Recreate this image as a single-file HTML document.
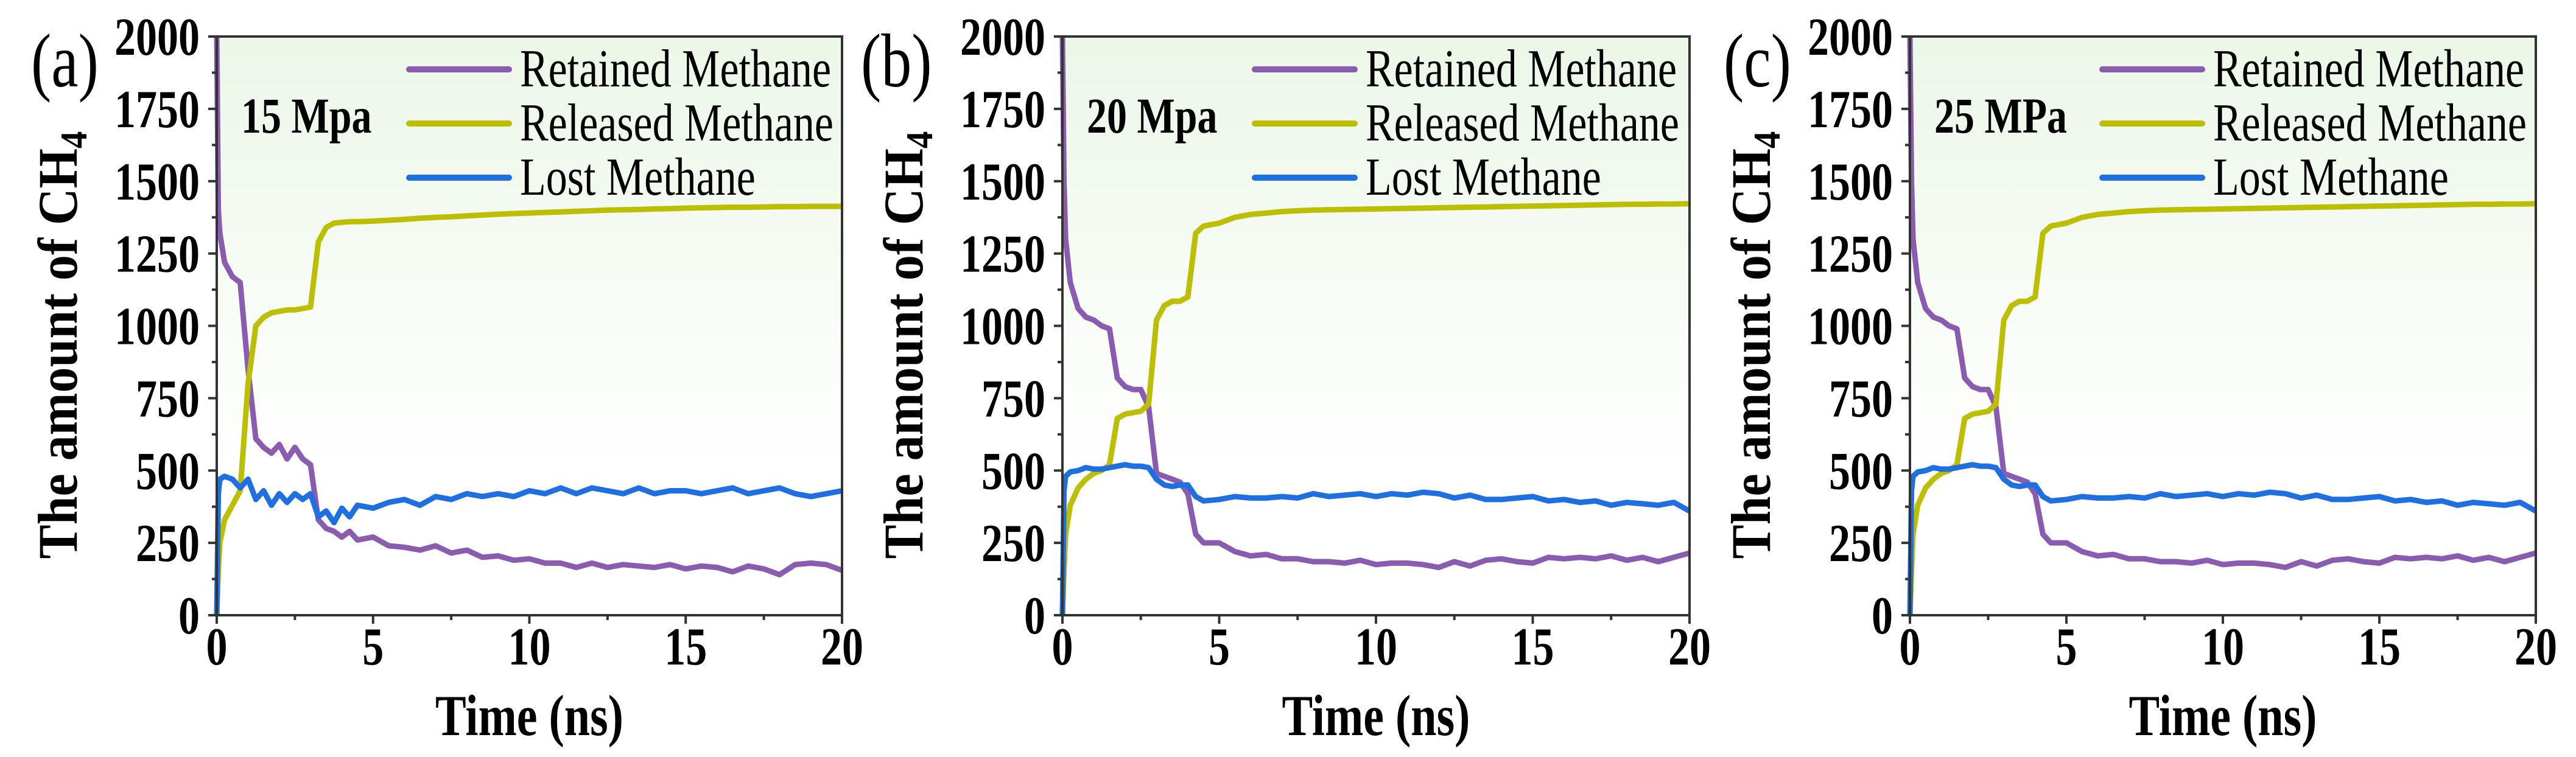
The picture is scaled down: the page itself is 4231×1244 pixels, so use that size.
<!DOCTYPE html>
<html><head><meta charset="utf-8"><style>
html,body{margin:0;padding:0;background:#fff;}
svg{display:block;font-family:"Liberation Serif",serif;}
</style></head><body>
<svg id="fig" width="4231" height="1244" viewBox="0 0 4231 1244" xmlns="http://www.w3.org/2000/svg">
<defs><linearGradient id="bg" x1="0" y1="0" x2="0" y2="1">
<stop offset="0" stop-color="#ecf7e8"/><stop offset="0.75" stop-color="#ffffff"/><stop offset="1" stop-color="#ffffff"/></linearGradient></defs>
</svg>
<script>
const timeNs=[0,0.05,0.1,0.25,0.5,0.75,1,1.25,1.5,1.75,2,2.25,2.5,2.75,3,3.25,3.5,3.75,4,4.25,4.5,5,5.5,6,6.5,7,7.5,8,8.5,9,9.5,10,10.5,11,11.5,12,12.5,13,13.5,14,14.5,15,15.5,16,16.5,17,17.5,18,18.5,19,19.5,20];
const retainedA=[2000,1400,1320,1220,1170,1150,850,610,580,560,590,540,580,540,520,330,300,290,270,290,260,270,240,235,225,240,215,225,200,205,190,195,180,180,165,180,165,175,170,165,175,160,170,165,150,170,160,140,175,180,175,155];
const releasedA=[0,150,250,330,380,430,800,1000,1030,1045,1050,1055,1055,1060,1065,1290,1340,1355,1358,1360,1360,1362,1365,1368,1372,1375,1377,1380,1383,1386,1388,1390,1392,1394,1396,1398,1400,1401,1402,1404,1405,1407,1408,1409,1410,1410,1411,1412,1412,1413,1413,1413];
const lostA=[0,420,470,480,470,440,470,400,430,380,420,390,420,400,420,340,360,320,370,340,380,370,390,400,380,410,400,420,410,420,410,430,420,440,420,440,430,420,440,420,430,430,420,430,440,420,430,440,420,410,420,430];
const retainedB=[2000,1500,1300,1150,1060,1030,1020,1000,990,820,790,780,780,720,490,480,470,460,420,280,250,250,220,205,210,195,195,185,185,180,190,175,180,180,175,165,185,170,190,195,185,180,200,195,200,195,205,190,200,185,200,215];
const releasedB=[0,150,280,380,440,470,490,500,520,680,695,700,705,730,1020,1070,1085,1085,1100,1320,1345,1355,1375,1385,1390,1395,1398,1400,1401,1402,1403,1404,1405,1406,1407,1408,1409,1410,1411,1412,1413,1414,1415,1416,1417,1418,1419,1420,1420,1421,1421,1422];
const lostB=[0,430,480,495,500,510,505,505,510,515,520,515,515,510,470,450,445,450,450,410,395,400,410,405,405,410,405,420,410,415,420,410,420,415,425,420,405,415,400,400,405,410,395,400,390,395,380,390,385,380,390,360];
const retainedC=[2000,1500,1300,1150,1060,1030,1020,1000,990,820,790,780,780,720,490,480,470,460,420,280,250,250,220,205,210,195,195,185,185,180,190,175,180,180,175,165,185,170,190,195,185,180,200,195,200,195,205,190,200,185,200,215];
const releasedC=[0,150,280,380,440,470,490,500,520,680,695,700,705,730,1020,1070,1085,1085,1100,1320,1345,1355,1375,1385,1390,1395,1398,1400,1401,1402,1403,1404,1405,1406,1407,1408,1409,1410,1411,1412,1413,1414,1415,1416,1417,1418,1419,1420,1420,1421,1421,1422];
const lostC=[0,430,480,495,500,510,505,505,510,515,520,515,515,510,470,450,445,450,450,410,395,400,410,405,405,410,405,420,410,415,420,410,420,415,425,420,405,415,400,400,405,410,395,400,390,395,380,390,385,380,390,360];
const yTicks=[0,250,500,750,1000,1250,1500,1750,2000];
const xTicks=[0,5,10,15,20];
const seriesNames=["Retained Methane","Released Methane","Lost Methane"];
const panelLabels=["(a)","(b)","(c)"];
const pressureLabels=["15 Mpa","20 Mpa","25 MPa"];

const NS="http://www.w3.org/2000/svg";
const svg=document.getElementById('fig');
const colors=["#8a5cb0","#bcbf00","#1f6fe0"];
const SY=1.25;
function mk(tag,attrs,parent,text){const e=document.createElementNS(NS,tag);for(const k in attrs)e.setAttribute(k,attrs[k]);if(text!==undefined)e.textContent=text;(parent||svg).appendChild(e);return e;}
function txt(x,y,str,attrs,parent){const a=Object.assign({x:0,y:0,transform:`translate(${x} ${y}) scale(1 ${SY})`},attrs);return mk('text',a,parent,str);}
const panels=[
 {L:356,R:1383,lab:51,data:[retainedA,releasedA,lostA]},
 {L:1745,R:2775,lab:1414,data:[retainedB,releasedB,lostB]},
 {L:3137,R:4165,lab:2831,data:[retainedC,releasedC,lostC]}];
const T=60,B=1011;
panels.forEach((p,pi)=>{
 const g=mk('g',{});
 
 
 const xs=v=>p.L+(v/20)*(p.R-p.L);
 const ys=v=>B-(v/2000)*(B-T);
 const bg=mk('rect',{x:p.L,y:T,width:p.R-p.L,height:B-T,fill:'url(#bg)'},g);
 
 
 p.data.forEach((arr,si)=>{
  let d='';arr.forEach((v,i)=>{d+=(i?'L':'M')+xs(timeNs[i]).toFixed(1)+' '+ys(v).toFixed(1);});
  const path=mk('path',{d:d,fill:'none',stroke:colors[si],'stroke-width':9,'stroke-linejoin':'round'},g);
  
  
 });
 const fr=mk('rect',{x:p.L,y:T,width:p.R-p.L,height:B-T,fill:'none',stroke:'#333','stroke-width':4},g);
 
 
 for(let v=0;v<=2000;v+=125){const major=v%250===0;mk('line',{x1:p.L,x2:p.L-(major?14:8),y1:ys(v),y2:ys(v),stroke:'#333','stroke-width':4},g);}
 yTicks.forEach(v=>{const t=txt(p.L-28,ys(v)+30,String(v),{'text-anchor':'end','font-size':70,'font-weight':'bold',fill:'#000'},g);
  
  });
 for(let v=0;v<=20;v+=2.5){const major=v%5===0;mk('line',{x1:xs(v),x2:xs(v),y1:B,y2:B+(major?14:8),stroke:'#333','stroke-width':4},g);}
 xTicks.forEach(v=>{const t=txt(xs(v),1092,String(v),{'text-anchor':'middle','font-size':70,'font-weight':'bold',fill:'#000'},g);
  
  });
 const xt=txt((p.L+p.R)/2,1208,'Time (ns)',{'text-anchor':'middle','font-size':76,'font-weight':'bold'},g);
 
 
 const cx=p.L-230,cy=567;
 const yt=mk('text',{x:0,y:0,'text-anchor':'middle','font-size':80,'font-weight':'bold',transform:`translate(${cx} ${cy}) rotate(-90) scale(1.05 1.15)`},g);
 
 
 yt.appendChild(document.createTextNode('The amount of CH'));
 mk('tspan',{'font-size':54,dy:14},yt,'4');
 const pl=txt(p.lab,142,panelLabels[pi],{'font-size':100},g);
 
 
 const pr=txt(p.L+40,218,pressureLabels[pi],{'font-size':66,'font-weight':'bold'},g);
 
 
 const lg=mk('g',{},g);
 
 
 const rowsY=[114,203,292];
 seriesNames.forEach((n,si)=>{
  const e=mk('g',{},lg);
  
  
  mk('line',{x1:p.L+316,x2:p.L+480,y1:rowsY[si],y2:rowsY[si],stroke:colors[si],'stroke-width':10,'stroke-linecap':'round'},e);
  txt(p.L+498,rowsY[si]+28,n,{'font-size':70},e);
 });
});
</script>
</body></html>
